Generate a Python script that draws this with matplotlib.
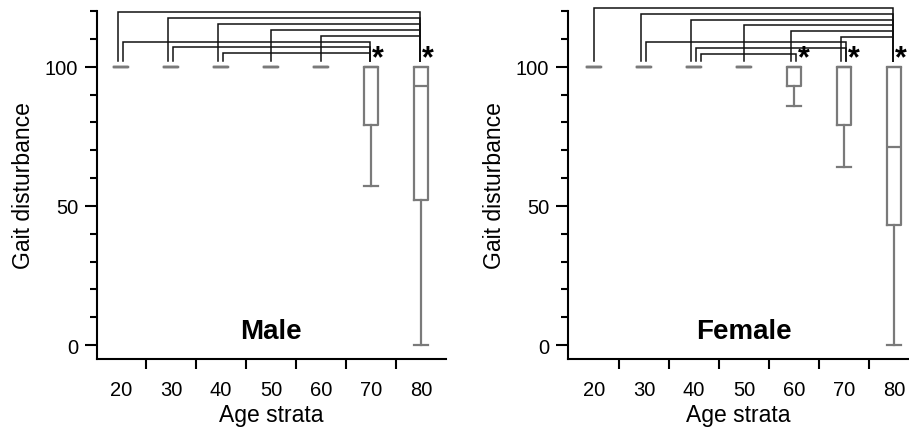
import numpy as np
import matplotlib
matplotlib.use("Agg")
import matplotlib.pyplot as plt

plt.rcParams['font.family'] = ['Liberation Sans', 'DejaVu Sans']

# Daten
age_labels = ['20', '30', '40', '50', '60', '70', '80']

male_med = [100, 100, 100, 100, 100, 100, 93]
male_q1 = [100, 100, 100, 100, 100, 79, 52]
male_q3 = [100, 100, 100, 100, 100, 100, 100]
male_lo = [100, 100, 100, 100, 100, 57, 0]
male_hi = [100, 100, 100, 100, 100, 100, 100]

female_med = [100, 100, 100, 100, 100, 100, 71]
female_q1 = [100, 100, 100, 100, 93, 79, 43]
female_q3 = [100, 100, 100, 100, 100, 100, 100]
female_lo = [100, 100, 100, 100, 86, 64, 0]
female_hi = [100, 100, 100, 100, 100, 100, 100]

# signifikante Paare (von, nach), von oben nach unten
male_pairs = [(0, 6), (1, 6), (2, 6), (3, 6), (4, 6), (0, 5), (1, 5), (2, 5)]
female_pairs = [(0, 6), (1, 6), (2, 6), (3, 6), (4, 6), (5, 6), (1, 5), (2, 5), (2, 4)]

BOX_COL = '#7a7a7a'


def make_stats(med, q1, q3, lo, hi):
    return [dict(med=m, q1=a, q3=b, whislo=l, whishi=h, fliers=[])
            for m, a, b, l, h in zip(med, q1, q3, lo, hi)]


def draw_panel(ax, stats, pairs, top_level, step, xlim, title):
    pos = np.arange(len(age_labels))
    props = dict(color=BOX_COL, linewidth=1.6)
    ax.bxp(stats, positions=pos, widths=0.27, capwidths=0.27, showfliers=False,
           boxprops=props, whiskerprops=props, capprops=props, medianprops=props)

    ax.set_xlim(*xlim)
    ax.set_ylim(-5, 120)
    ax.spines['top'].set_visible(False)
    ax.spines['right'].set_visible(False)
    for s in ['left', 'bottom']:
        ax.spines[s].set_linewidth(1.5)

    ax.set_xticks(pos)
    ax.set_xticklabels(age_labels)
    ax.set_xticks(pos[:-1] + 0.5, minor=True)
    ax.tick_params(axis='x', which='major', length=0, pad=15, labelsize=14.5)
    ax.tick_params(axis='x', which='minor', length=7, width=1.5)
    ax.set_yticks([0, 50, 100])
    ax.set_yticks(np.arange(0, 121, 10), minor=True)
    ax.tick_params(axis='y', which='major', length=8.5, width=1.5, pad=5, labelsize=14.5)
    ax.tick_params(axis='y', which='minor', length=5, width=1.5)

    ax.set_xlabel('Age strata', fontsize=16.5, labelpad=3)
    ax.set_ylabel('Gait disturbance', fontsize=16.5, labelpad=7)

    # Signifikanzklammern
    sources = [p[0] for p in pairs]
    targets = set(p[1] for p in pairs)
    seen = {}
    leg_bottom = 102
    for k, (a, b) in enumerate(pairs):
        level = top_level - k * step
        n = sources.count(a)
        j = seen.get(a, 0)
        seen[a] = j + 1
        if n > 1:
            xa = a - 0.07 + 0.1 * j
        elif a in targets:
            xa = a - 0.06
        else:
            xa = a
        xb = b + (0.04 if b in sources else -0.02)
        ax.plot([xa, xa, xb, xb], [leg_bottom, level, level, leg_bottom],
                color='#111111', lw=1.1, clip_on=False, solid_joinstyle='miter')
    for b in targets:
        xb = b + (0.04 if b in sources else -0.02)
        ax.text(xb + 0.03, 103, '*', fontsize=22, fontweight='bold',
                ha='left', va='center', clip_on=False)

    ax.text(3, 5, title, fontsize=20, fontweight='bold', ha='center', va='center')


fig = plt.figure(figsize=(9.09, 4.31), dpi=100)
ax1 = fig.add_axes([97 / 909, 71 / 431, 349 / 909, 348 / 431])
ax2 = fig.add_axes([568 / 909, 71 / 431, 341 / 909, 348 / 431])

draw_panel(ax1, make_stats(male_med, male_q1, male_q3, male_lo, male_hi),
           male_pairs, 119.5, 2.1, (-0.48, 6.5), 'Male')
draw_panel(ax2, make_stats(female_med, female_q1, female_q3, female_lo, female_hi),
           female_pairs, 121.0, 2.04, (-0.52, 6.3), 'Female')

fig.savefig('out.png', dpi=100)
